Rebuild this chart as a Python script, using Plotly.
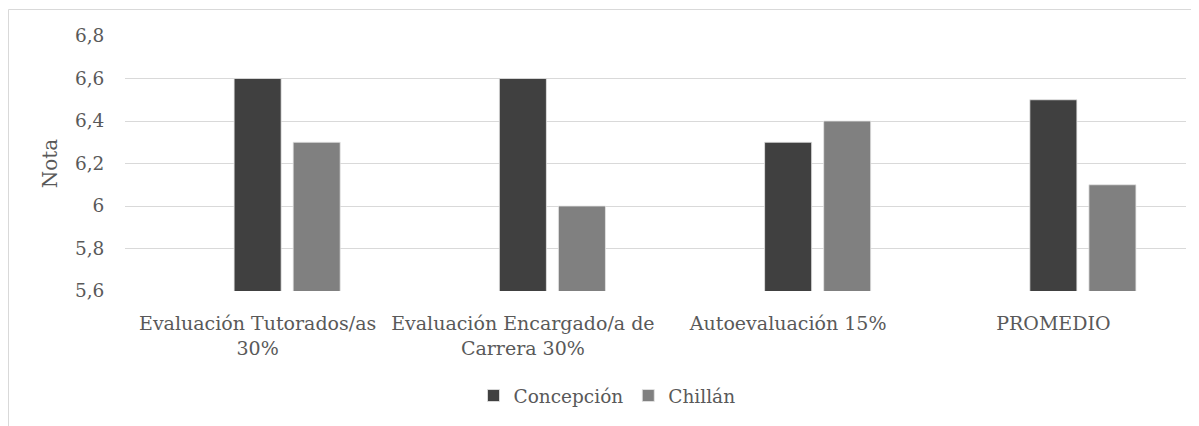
import plotly.graph_objects as go

categories = ["Evaluación Tutorados/as<br>30%", "Evaluación Encargado/a de<br>Carrera 30%",
              "Autoevaluación 15%", "PROMEDIO"]
concepcion = [6.6, 6.6, 6.3, 6.5]
chillan = [6.3, 6.0, 6.4, 6.1]
y_ticks = [5.6, 5.8, 6.0, 6.2, 6.4, 6.6, 6.8]
y_ticktext = ["5,6", "5,8", "6", "6,2", "6,4", "6,6", "6,8"]

FONT = "DejaVu Serif"
FS = 18.5
TXT = "#595959"
# page has an 8px body margin; figure sized to fill the rest of the window
OFF = 8
W, H = 1199 - OFF, 426 - OFF
L, T = 125 - OFF, 36 - OFF
PB = 291 - OFF          # plot bottom (figure px)
PR = 1186 - OFF         # plot right (figure px)
R, B = W - PR, H - PB
pw = W - L - R
ph = H - T - B

bw = 47 / 265

fig = go.Figure()
fig.add_trace(go.Bar(x=categories, y=concepcion, name="Concepción",
                     marker=dict(color="#404040", line=dict(color="#e6e6e6", width=0.8)),
                     width=bw, offset=-bw / 2))
fig.add_trace(go.Bar(x=categories, y=chillan, name="Chillán",
                     marker=dict(color="#808080", line=dict(color="#e6e6e6", width=0.8)),
                     width=bw, offset=35.5 / 265))

fig.update_layout(
    width=W, height=H,
    margin=dict(l=L, r=R, t=T, b=B, autoexpand=False),
    paper_bgcolor="white", plot_bgcolor="white",
    font=dict(family=FONT, size=FS, color=TXT),
    separators=", ",
    showlegend=True,
    legend=dict(orientation="h", x=(607 - OFF - L) / pw, xanchor="center",
                y=(PB - (396 - OFF)) / ph, yanchor="middle",
                font=dict(family=FONT, size=FS, color=TXT),
                itemwidth=30, traceorder="normal"),
    xaxis=dict(showgrid=False, showline=False, ticks="outside", ticklen=15,
               tickcolor="rgba(0,0,0,0)", tickfont=dict(size=19, color=TXT),
               automargin=False),
    yaxis=dict(range=[5.6, 6.8], tickvals=y_ticks, ticktext=y_ticktext,
               showgrid=True, gridcolor="#d9d9d9", gridwidth=1.3,
               zeroline=False, showline=False,
               ticks="outside", ticklen=16, tickcolor="rgba(0,0,0,0)",
               tickfont=dict(size=FS, color=TXT),
               title=dict(text="Nota", font=dict(size=20, color=TXT), standoff=11),
               automargin=False),
    shapes=[dict(type="rect", xref="paper", yref="paper",
                 x0=(0.5 - L) / pw, x1=(W + 20 - L) / pw,
                 y0=(PB - (H + 20)) / ph, y1=(PB - 1.5) / ph,
                 line=dict(color="#d9d9d9", width=1), fillcolor="rgba(0,0,0,0)",
                 layer="below")],
)

fig.write_html("out.html")
